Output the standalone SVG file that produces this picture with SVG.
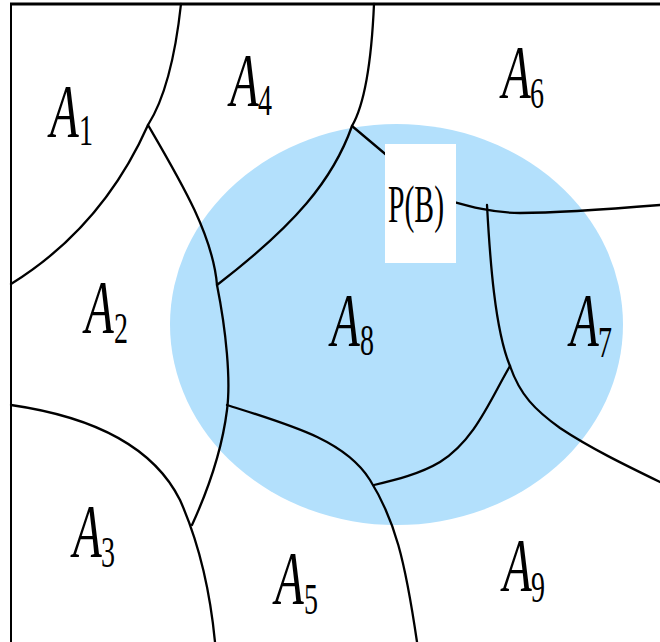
<svg xmlns="http://www.w3.org/2000/svg" width="660" height="642" viewBox="0 0 660 642">
<style>
.ln{fill:none;stroke:#000;stroke-width:2.3;stroke-linecap:round}
.a{font-family:"Liberation Serif",serif;font-style:italic;font-size:47px;fill:#000}
.s{font-family:"Liberation Serif",serif;font-size:28px;fill:#000}
.p{font-family:"Liberation Serif",serif;font-size:33px;fill:#000}
</style>
<rect width="660" height="642" fill="#fff"/>
<g id="frame">
<line x1="10" y1="4" x2="660" y2="4" stroke="#000" stroke-width="3"/>
<line x1="11" y1="3" x2="11" y2="642" stroke="#000" stroke-width="2"/>
</g>
<ellipse id="B" cx="396.5" cy="324.5" rx="226.5" ry="200.5" fill="#b3e0fc"/>
<g id="connectors">
<path class="ln" d="M181,4 C176,50 167,95 148,125"/>
<path class="ln" d="M148,125 C128,170 90,235 11,284"/>
<path class="ln" d="M148,125 C180,180 213,235 217,285 C226,330 231,380 227,410 C222,450 208,490 192,525"/>
<path class="ln" d="M374,4 C372,50 367,100 352,126"/>
<path class="ln" d="M352,126 C333,180 295,225 217,285"/>
<path class="ln" d="M352,126 L390,158"/>
<path class="ln" d="M440,198 C465,205 490,213 520,213 C560,213 600,210 660,205" stroke-width="2.7"/>
<path class="ln" d="M487,205 C490,260 495,330 510,366"/>
<path class="ln" d="M510,366 C520,395 535,410 560,428 C590,448 625,465 660,482" stroke-width="2.5"/>
<path class="ln" d="M510,366 C490,400 475,440 440,462 C420,474 395,480 374,485" stroke-width="2.7"/>
<path class="ln" d="M227,405 C290,425 345,440 370,480 C395,520 405,560 417,642"/>
<path class="ln" d="M11,405 C80,415 150,440 180,500 C200,545 210,590 215,642"/>
</g>
<g id="PB">
<rect x="385" y="144" width="71" height="119" fill="#fff"/>
<text class="p" transform="translate(388,222) scale(1,1.6)" textLength="56" lengthAdjust="spacingAndGlyphs">P(B)</text>
</g>
<g id="A1" transform="translate(50,137) scale(1,1.6)"><text class="a">A</text><text class="s" x="29" y="5">1</text></g>
<g id="A4" transform="translate(230,106) scale(1,1.6)"><text class="a">A</text><text class="s" x="28" y="5.6">4</text></g>
<g id="A6" transform="translate(502,98) scale(1,1.6)"><text class="a">A</text><text class="s" x="28" y="6.2">6</text></g>
<g id="A2" transform="translate(85,333) scale(1,1.6)"><text class="a">A</text><text class="s" x="29" y="6.2">2</text></g>
<g id="A8" transform="translate(331,346) scale(1,1.6)"><text class="a">A</text><text class="s" x="29" y="5.6">8</text></g>
<g id="A7" transform="translate(570,346) scale(1,1.6)"><text class="a">A</text><text class="s" x="28" y="6.9">7</text></g>
<g id="A3" transform="translate(73,557) scale(1,1.6)"><text class="a">A</text><text class="s" x="28" y="6.2">3</text></g>
<g id="A5" transform="translate(275,604) scale(1,1.6)"><text class="a">A</text><text class="s" x="29" y="6.2">5</text></g>
<g id="A9" transform="translate(503,591) scale(1,1.6)"><text class="a">A</text><text class="s" x="28" y="6.9">9</text></g>
</svg>
